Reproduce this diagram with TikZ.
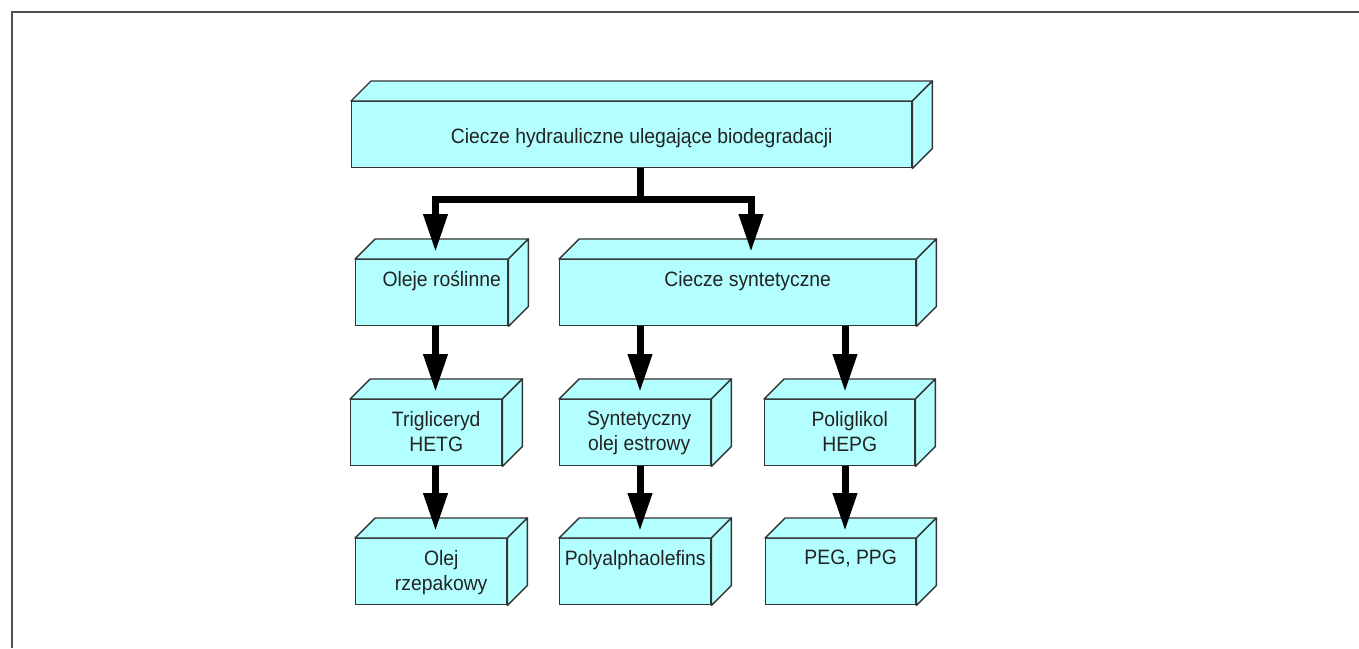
\documentclass[tikz,border=0pt]{standalone}
\usepackage{fontspec}
\setmainfont[FakeStretch=0.93]{Liberation Sans}
\usetikzlibrary{arrows.meta}
\definecolor{boxfill}{RGB}{179,255,255}
\definecolor{boxline}{RGB}{51,51,51}
\definecolor{framegray}{RGB}{80,80,80}
\definecolor{inkgray}{RGB}{34,34,34}

% Cuboid: front face node plus top and right faces
% #1 name, #2 x, #3 y (top-left of front face), #4 width, #5 height
\newcommand\cuboid[5]{%
  \node[frontface, minimum width=#4pt, minimum height=#5pt] (#1) at (#2,#3) {};
  \draw[sideface] (#1.north west) -- ++(20,-20)
    -- ([shift={(20pt,20pt)}]#1.north east) -- (#1.north east) -- cycle;
  \draw[sideface] (#1.north east) -- ++(20,-20)
    -- ([shift={(20pt,20pt)}]#1.south east) -- (#1.south east) -- cycle;
}

\begin{document}
\begin{tikzpicture}[x=1pt,y=-1pt,
  frontface/.style={draw=boxline, fill=boxfill, line width=1.4pt, inner sep=0pt, anchor=north west},
  sideface/.style={draw=boxline, fill=boxfill, line width=1.4pt, line join=round},
  boxtext/.style={font=\fontsize{20.8}{25}\selectfont, text=inkgray, align=center, inner sep=0pt, anchor=north},
  arr/.style={line width=7pt, -{Triangle[length=38pt,width=23pt]}, shorten >=7pt},
]
\fill[white] (0,0) rectangle (1359,648);
\useasboundingbox (0,0) rectangle (1359,648);

% outer frame
\draw[framegray, line width=2pt] (12,648) -- (12,12) -- (1359,12);

% boxes
\cuboid{top}{351}{101}{560}{66}
\cuboid{ol}{355}{259}{152}{66}
\cuboid{cs}{559}{259}{356}{66}
\cuboid{tr}{350}{399}{151}{66}
\cuboid{se}{559}{399}{151}{66}
\cuboid{pg}{764}{399}{150}{66}
\cuboid{rz}{355}{538}{151}{66}
\cuboid{pao}{559}{538}{151}{66}
\cuboid{peg}{765}{538}{150}{66}

% texts
\node[boxtext] (top-t) at ([xshift=10pt,yshift=-27pt]top.north) {Ciecze hydrauliczne ulegające biodegradacji};
\node[boxtext] (ol-t) at ([xshift=10pt,yshift=-12pt]ol.north) {Oleje roślinne};
\node[boxtext] (cs-t) at ([xshift=10pt,yshift=-12pt]cs.north) {Ciecze syntetyczne};
\node[boxtext] (tr-t) at ([xshift=10pt,yshift=-12pt]tr.north) {Trigliceryd\\HETG};
\node[boxtext] (se-t) at ([xshift=4pt,yshift=-12pt]se.north) {Syntetyczny\\olej estrowy};
\node[boxtext] (pg-t) at ([xshift=10pt,yshift=-12pt]pg.north) {Poliglikol\\HEPG};
\node[boxtext] (rz-t) at ([xshift=10pt,yshift=-12pt]rz.north) {Olej\\rzepakowy};
\node[boxtext] (pao-t) at ([xshift=0pt,yshift=-12pt]pao.north) {Polyalphaolefins};
\node[boxtext] (peg-t) at ([xshift=10pt,yshift=-12pt]peg.north) {PEG, PPG};

% arrow columns
\coordinate (colA) at (435.5,0);
\coordinate (colB) at (640,0);
\coordinate (colC) at (845,0);
\coordinate (colR) at (751,0);

% connectors
\draw[arr] (top.south -| colB) -- ++(0,31.5) -| (ol.north -| colA);
\draw[arr] (top.south -| colB) -- ++(0,31.5) -| (cs.north -| colR);
\draw[arr] (ol.south -| colA) -- (tr.north -| colA);
\draw[arr] (cs.south -| colB) -- (se.north -| colB);
\draw[arr] (cs.south -| colC) -- (pg.north -| colC);
\draw[arr] (tr.south -| colA) -- (rz.north -| colA);
\draw[arr] (se.south -| colB) -- (pao.north -| colB);
\draw[arr] (pg.south -| colC) -- (peg.north -| colC);
\end{tikzpicture}
\end{document}
